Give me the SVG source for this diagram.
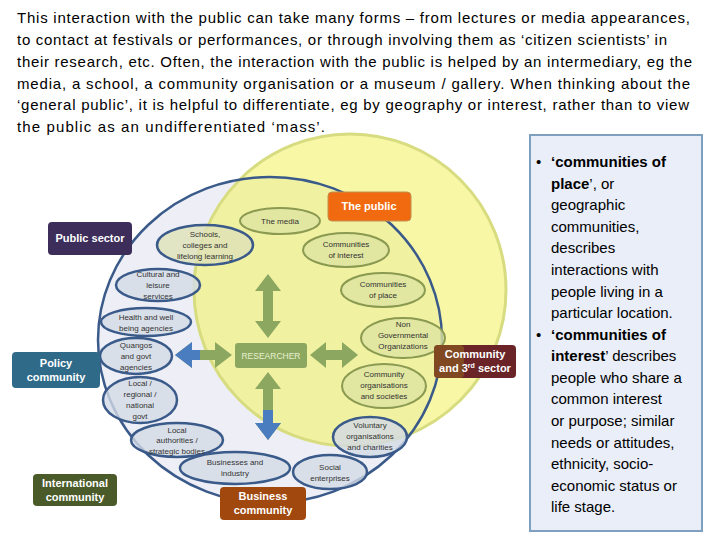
<svg xmlns="http://www.w3.org/2000/svg" width="720" height="540" viewBox="0 0 720 540">
<style>
.t{font-family:"Liberation Sans",Arial,sans-serif;font-size:15px;fill:#000}
.e{fill:#d3dbe6;fill-opacity:0.8;stroke:#3a5a8a;stroke-width:2.5}
.y{fill:#dde3a0;fill-opacity:0.8;stroke:#8a9a50;stroke-width:2}
.el{font-family:"Liberation Sans",Arial,sans-serif;font-size:8px;fill:#333;text-anchor:middle}
.bx{font-family:"Liberation Sans",Arial,sans-serif;font-size:11px;font-weight:bold;fill:#fff;text-anchor:middle}
.r{font-family:"Liberation Sans",Arial,sans-serif;font-size:15px;fill:#000}
</style>
<rect width="720" height="540" fill="#fff"/>
<g id="intro" class="t">
<text x="17" y="23" textLength="673">This interaction  with the public can take many forms – from lectures or media appearances,</text>
<text x="17" y="45" textLength="650">to contact at festivals or performances, or through involving them as ‘citizen scientists’ in</text>
<text x="17" y="67" textLength="675">their research, etc. Often, the interaction with the public is helped by an intermediary, eg the</text>
<text x="17" y="89" textLength="673">media, a school, a community organisation or a museum / gallery.  When thinking about the</text>
<text x="17" y="110" textLength="672">‘general public’, it is helpful to differentiate, eg by geography or interest, rather than to view</text>
<text x="17" y="132" textLength="308">the public as an undifferentiated ‘mass’.</text>
</g>
<g id="bg">
<ellipse cx="270" cy="340" rx="172" ry="163" fill="#eeeff6"/>
<circle cx="350" cy="290" r="156" fill="#f4f26a" fill-opacity="0.6" stroke="#d8dc80" stroke-width="3"/>
<ellipse cx="270" cy="340" rx="172" ry="163" fill="none" stroke="#3a5a8a" stroke-width="2.5"/>
</g>
<g id="nodes">
<g id="n-cult"><ellipse class="e" cx="158" cy="285" rx="42" ry="16"/><text class="el" x="158" y="277">Cultural and</text><text class="el" x="158" y="288">leisure</text><text class="el" x="158" y="299">services</text></g>
<g id="n-health"><ellipse class="e" cx="146" cy="322" rx="45" ry="14"/><text class="el" x="146" y="320">Health and well</text><text class="el" x="146" y="331">being agencies</text></g>
<g id="n-quango"><ellipse class="e" cx="136" cy="356" rx="36" ry="18"/><text class="el" x="136" y="348">Quangos</text><text class="el" x="136" y="359">and govt</text><text class="el" x="136" y="370">agencies</text></g>
<g id="n-gov"><ellipse class="e" cx="140" cy="400" rx="37" ry="23"/><text class="el" x="140" y="386">Local /</text><text class="el" x="140" y="397">regional /</text><text class="el" x="140" y="408">national</text><text class="el" x="140" y="419">govt</text></g>
<g id="n-la"><ellipse class="e" cx="177" cy="440" rx="46" ry="17"/><text class="el" x="177" y="433">Local</text><text class="el" x="177" y="443">authorities /</text><text class="el" x="177" y="454">strategic bodies</text></g>
<g id="n-bus"><ellipse class="e" cx="235" cy="468" rx="55" ry="16"/><text class="el" x="235" y="465">Businesses and</text><text class="el" x="235" y="476">industry</text></g>
<g id="n-soc"><ellipse class="e" cx="330" cy="472" rx="37" ry="17"/><text class="el" x="330" y="470">Social</text><text class="el" x="330" y="481">enterprises</text></g>
<g id="n-vol"><ellipse class="e" cx="370" cy="437" rx="37" ry="20"/><text class="el" x="370" y="428">Voluntary</text><text class="el" x="370" y="439">organisations</text><text class="el" x="370" y="450">and charities</text></g>
<g id="n-schools"><ellipse class="e" cx="205" cy="245" rx="48" ry="20" style="fill:#dfe2b8"/><text class="el" x="205" y="237">Schools,</text><text class="el" x="205" y="248">colleges and</text><text class="el" x="205" y="259">lifelong learning</text></g>
<g id="n-media"><ellipse class="y" cx="280" cy="221" rx="40" ry="13"/><text class="el" x="280" y="224">The media</text></g>
<g id="n-comorg"><ellipse class="y" cx="384" cy="386" rx="42" ry="22"/><text class="el" x="384" y="377">Community</text><text class="el" x="384" y="388">organisations</text><text class="el" x="384" y="399">and societies</text></g>
<g id="n-ngo"><ellipse class="y" cx="403" cy="338" rx="42" ry="20"/><text class="el" x="403" y="327">Non</text><text class="el" x="403" y="338">Governmental</text><text class="el" x="403" y="349">Organizations</text></g>
<g id="n-place"><ellipse class="y" cx="383" cy="290" rx="42" ry="17"/><text class="el" x="383" y="287">Communities</text><text class="el" x="383" y="298">of place</text></g>
<g id="n-int"><ellipse class="y" cx="346" cy="250" rx="43" ry="17"/><text class="el" x="346" y="247">Communities</text><text class="el" x="346" y="258">of interest</text></g>
</g>
<g id="connectors">
<polygon points="268,274 281,291 273,291 273,321 281,321 268,338 255,321 263,321 263,291 255,291" fill="#8ca860"/>
<polygon points="268,372 281,389 273,389 273,423 281,423 268,440 255,423 263,423 263,389 255,389" fill="#8ca860"/>
<polygon points="263,410 273,410 273,423 281,423 268,440 255,423 263,423" fill="#4a7cc0"/>
<polygon points="175,355 192,342 192,350 215,350 215,342 232,355 215,368 215,360 192,360 192,368" fill="#8ca860"/>
<polygon points="175,355 192,342 192,350 200,350 200,360 192,360 192,368" fill="#4a7cc0"/>
<polygon points="310,355 326,342 326,350 342,350 342,342 358,355 342,368 342,360 326,360 326,368" fill="#8ca860"/>
</g>
<g id="researcher"><rect x="235" y="343" width="72" height="25" rx="3" fill="#8ca860"/><text x="271" y="359" font-family="Liberation Sans,Arial,sans-serif" font-size="8.5" fill="#e8f0d0" text-anchor="middle">RESEARCHER</text></g>
<g id="b-public"><rect x="328" y="192" width="83" height="29" rx="4" fill="#f26a10" stroke="#c09050"/><text class="bx" x="369" y="210" font-weight="normal">The public</text></g>
<g id="b-pubsec"><rect x="48" y="222" width="84" height="33" rx="4" fill="#3c2d5a"/><text class="bx" x="90" y="242">Public sector</text></g>
<g id="b-policy"><rect x="12" y="352" width="88" height="36" rx="4" fill="#2f6a88"/><text class="bx" x="56" y="367">Policy</text><text class="bx" x="56" y="381">community</text></g>
<g id="b-comm"><rect x="434" y="345" width="82" height="33" rx="4" fill="#6a2428"/><rect x="434" y="345" width="30" height="33" rx="4" fill="#8a5a20" opacity="0.7"/><text class="bx" x="475" y="358">Community</text><text class="bx" x="475" y="372">and 3<tspan font-size="7" dy="-4">rd</tspan><tspan dy="4"> sector</tspan></text></g>
<g id="b-intl"><rect x="33" y="474" width="84" height="32" rx="4" fill="#4a5a28"/><text class="bx" x="75" y="487">International</text><text class="bx" x="75" y="501">community</text></g>
<g id="b-bus"><rect x="220" y="487" width="86" height="33" rx="4" fill="#a0480e"/><text class="bx" x="263" y="500">Business</text><text class="bx" x="263" y="514">community</text></g>
<g id="sidebox">
<rect x="530" y="135" width="172" height="396" fill="#e9eef8" stroke="#7f9fc0" stroke-width="2"/>
<g class="r">
<text x="536" y="167">•</text>
<text x="551" y="167"><tspan font-weight="bold">‘communities of</tspan></text>
<text x="551" y="189"><tspan font-weight="bold">place</tspan>’, or</text>
<text x="551" y="210">geographic</text>
<text x="551" y="232">communities,</text>
<text x="551" y="253">describes</text>
<text x="551" y="275">interactions with</text>
<text x="551" y="297">people living in a</text>
<text x="551" y="318">particular location.</text>
<text x="536" y="340">•</text>
<text x="551" y="340"><tspan font-weight="bold">‘communities of</tspan></text>
<text x="551" y="361"><tspan font-weight="bold">interest</tspan>’ describes</text>
<text x="551" y="383">people who share a</text>
<text x="551" y="404">common interest</text>
<text x="551" y="426">or purpose; similar</text>
<text x="551" y="448">needs or attitudes,</text>
<text x="551" y="469">ethnicity, socio-</text>
<text x="551" y="491">economic status or</text>
<text x="551" y="512">life stage.</text>
</g>
</g>
</svg>
